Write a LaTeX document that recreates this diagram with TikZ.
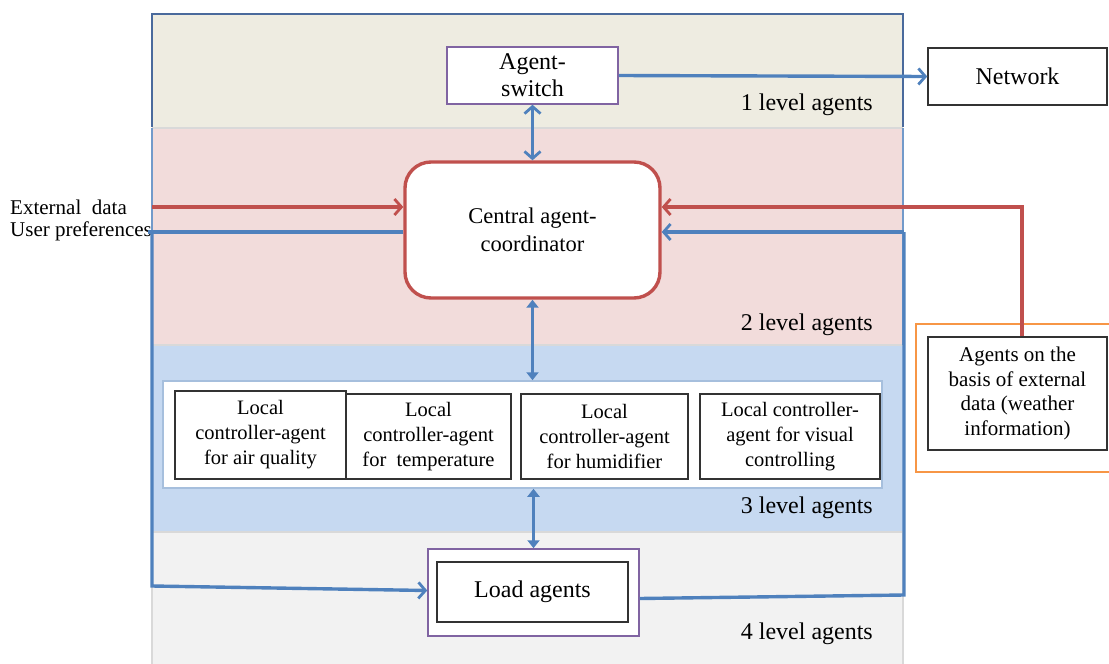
\documentclass[tikz,border=0pt]{standalone}
\usepackage{fontspec}
\setmainfont{Liberation Serif}
\usetikzlibrary{arrows.meta,calc}
\definecolor{cblue}{HTML}{4F81BD}
\definecolor{cred}{HTML}{C0504D}
\definecolor{cpurple}{HTML}{8064A2}
\definecolor{corange}{HTML}{F79646}
\definecolor{bandA}{HTML}{EEECE1}
\definecolor{bandB}{HTML}{F2DCDB}
\definecolor{bandC}{HTML}{C6D9F1}
\definecolor{bandD}{HTML}{F2F2F2}
\definecolor{sepgray}{HTML}{D9D9D9}
\definecolor{frameblue}{HTML}{4A6A9C}
\definecolor{contborder}{HTML}{A6BFDD}
\begin{document}
\begin{tikzpicture}[x=1pt,y=-1pt,
  big/.style={font=\fontsize{24}{27}\selectfont},
  small/.style={font=\fontsize{20.5}{25}\selectfont},
  boxbase/.style={draw, fill=white, align=center, inner sep=0pt},
  blackbox/.style={boxbase, draw=black!80, line width=1.5pt},
  purplebox/.style={boxbase, draw=cpurple, line width=1.5pt},
  bluecon/.style={cblue, line width=3.4pt},
  redcon/.style={cred, line width=3.4pt},
  barb/.style={-{Straight Barb[length=7pt,width=16pt,line width=2.8pt]}},
  dbarb/.style={{Straight Barb[length=7pt,width=16pt,line width=2.8pt]}-{Straight Barb[length=7pt,width=16pt,line width=2.8pt]}},
  dtri/.style={{Triangle[length=8pt,width=12pt]}-{Triangle[length=8pt,width=12pt]}},
  lvl/.style={big, anchor=east, inner sep=0pt},
  lowtext/.style={text depth=0pt}
]
\useasboundingbox (0,0) rectangle (1109,664);
% bands
\fill[bandA] (152,14) rectangle (903,128);
\fill[bandB] (152,128) rectangle (903,345);
\fill[bandC] (152,345) rectangle (903,532);
\fill[bandD] (152,532) rectangle (903,664);
\draw[sepgray, line width=2pt] (152,128) -- (903,128);
\draw[sepgray, line width=2pt] (152,345) -- (903,345);
\draw[sepgray, line width=2pt] (152,532) -- (903,532);
\draw[sepgray, line width=1.5pt] (152,345) -- (152,664);
\draw[sepgray, line width=1.5pt] (903,532) -- (903,664);
\draw[cblue!80, line width=1.2pt] (152,128) -- (152,345);
\draw[cblue!80, line width=1.2pt] (903,128) -- (903,345);
\draw[frameblue, line width=1.5pt] (152,127) -- (152,14) -- (903,14) -- (903,127);

% level labels
\node[lvl] (lv1) at (873,105) {1 level agents};
\node[lvl] (lv2) at (873,325) {2 level agents};
\node[lvl] (lv3) at (873,508) {3 level agents};
\node[lvl] (lv4) at (873,634) {4 level agents};

% nodes
\node[purplebox, big, minimum width=171pt, minimum height=57pt] (sw) at (532.5,75.5) {\raisebox{-2pt}{Agent-}\\\raisebox{-2pt}{switch}};
\node[blackbox, big, minimum width=179pt, minimum height=57pt] (net) at (1017.5,76.5) {\raisebox{-1pt}{Network}};
\node[boxbase, draw=cred, line width=3.4pt, rounded corners=26pt, font=\fontsize{22.5}{28}\selectfont,
      minimum width=255pt, minimum height=136pt] (coord) at (532.5,230) {\raisebox{-2pt}{Central agent-}\\\raisebox{-2pt}{coordinator}};

\draw[corange, line width=1.5pt] (1112,324) -- (916,324) -- (916,472) -- (1112,472);
\node[blackbox, font=\fontsize{21}{24.5}\selectfont, minimum width=179pt, minimum height=113pt] (ext) at (1017.5,393.5)
  {\raisebox{-3pt}{Agents on the}\\\raisebox{-3pt}{basis of external}\\\raisebox{-3pt}{data (weather}\\\raisebox{-3pt}{information)}};

\node[boxbase, draw=contborder, line width=1.5pt, minimum width=719pt, minimum height=107pt] (cont) at (522.5,434.5) {};
\node[blackbox, small, minimum width=171pt, minimum height=88pt] (l1) at (260.5,435) {\raisebox{-3pt}{Local}\\\raisebox{-3pt}{controller-agent}\\\raisebox{-3pt}{for air quality}};
\node[blackbox, small, minimum width=165pt, minimum height=85pt] (l2) at (428.5,436.5) {\raisebox{-3pt}{Local}\\\raisebox{-3pt}{controller-agent}\\\raisebox{-3pt}{for\ \ temperature}};
\node[blackbox, small, minimum width=167pt, minimum height=85pt] (l3) at (604.5,436.5) {\raisebox{-3pt}{Local}\\\raisebox{-3pt}{controller-agent}\\\raisebox{-3pt}{for humidifier}};
\node[blackbox, small, minimum width=180pt, minimum height=85pt] (l4) at (790,436.5) {\raisebox{-3pt}{Local controller-}\\\raisebox{-3pt}{agent for visual}\\\raisebox{-3pt}{controlling}};

\node[purplebox, minimum width=211pt, minimum height=87pt] (loadout) at (533.5,592.5) {};
\node[blackbox, big, minimum width=191pt, minimum height=60pt] (loadin) at (532.5,592) {\raisebox{-2pt}{Load agents}};

% left texts
\node[font=\fontsize{21}{25}\selectfont, anchor=west, inner sep=0pt] (extdata) at (10,207) {External\ \ data};
\node[font=\fontsize{21}{25}\selectfont, anchor=west, inner sep=0pt] (upref) at (10,231) {User preferences};

% coordinates
\coordinate (ein) at (152,207);
\coordinate (ul) at (148,232);
\coordinate (ulc) at (152,232);
\coordinate (llc) at (152,586);
\coordinate (rlc) at (904,595);
\coordinate (ruc) at (904,232);
\coordinate (rr) at (1022,207);

% connectors
\draw[bluecon, barb] (sw.east) -- (net.west);
\draw[bluecon, dbarb] (sw.south) -- (coord.north);
\draw[bluecon, dtri] (coord.south) -- (coord.south |- cont.north);
\draw[bluecon, dtri] (loadout.north |- cont.south) -- (loadout.north);
\draw[redcon, barb] (ein) -- (ein -| coord.west);
\draw[bluecon] (coord.west |- ul) -- (ul);
\draw[bluecon, barb, line join=miter] (ulc) -- (llc) -- ([yshift=2pt]loadout.west);
\draw[bluecon, line join=miter] ([yshift=-6pt]loadout.east) -- (rlc) -- (ruc);
\draw[bluecon, barb] (ruc) -- (ruc -| coord.east);
\draw[redcon, barb, line join=miter] (ext.north -| rr) -- (rr) -- (rr -| coord.east);
\end{tikzpicture}
\end{document}
